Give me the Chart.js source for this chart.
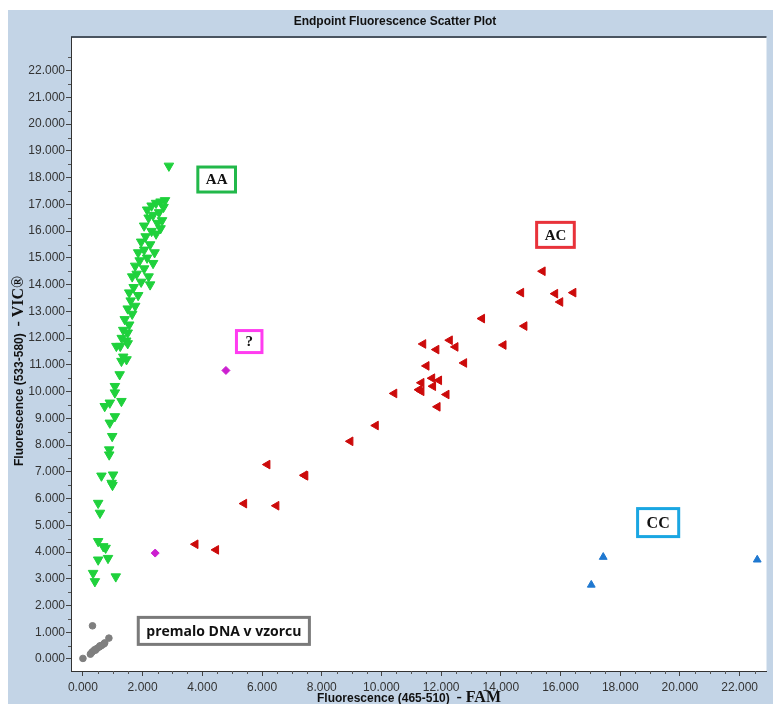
<!DOCTYPE html>
<html>
<head>
<meta charset="utf-8">
<script src="https://cdn.jsdelivr.net/npm/chart.js@4/dist/chart.umd.min.js"></script>
<style>
html,body{margin:0;padding:0;background:#fff;}
canvas{display:block;}
</style>
</head>
<body>
<canvas id="c" width="773" height="704"></canvas>
<script>
// ---- Data (fluorescence units) ----
const aaX = [2880,2750,2600,2450,2300,2150,2700,2550,2350,2650,2500,2200,2050,2600,2300,2100,2450,1950,2250,2050,2400,1850,2150,1900,2350,1750,2050,1800,2200,1650,1950,2250,1700,1550,1850,1600,1750,1500,1650,1400,1550,1350,1500,1300,1450,1250,1500,1120,1290,1460,1350,1230,1070,1070,1290,730,900,1070,900,980,880,880,620,1010,960,990,510,570,510,680,760,510,840,340,400,1100];
const aaY = [18440,17150,17100,17050,16950,16800,16900,16700,16600,16400,16300,16500,16200,16100,16000,15800,15900,15600,15500,15300,15200,15200,15000,14900,14800,14700,14600,14400,14300,14300,14100,14000,13900,13700,13600,13400,13200,13100,12900,12700,12500,12300,12200,12000,11900,11700,11800,11700,11140,11200,11300,10640,10200,9960,9640,9450,9580,9070,8830,8330,7830,7640,6850,6890,6580,6500,5830,5460,4400,4210,4150,3710,3770,3210,2900,3080];

const acX = [15400,14680,15820,16430,15990,13370,14790,11400,12290,11840,12480,14090,11510,12770,11700,11930,11340,11730,11260,11340,10430,12180,11880,9810,8960,6180,7420,7450,5400,6480,3770,4460];
const acY = [14500,13700,13660,13700,13350,12730,12450,11780,11920,11570,11670,11740,10960,11070,10500,10420,10330,10200,10070,10010,9930,9890,9430,8730,8140,7270,6870,6850,5810,5730,4290,4080];

const ccX = [17430,17030,22590];
const ccY = [3810,2770,3710];

const unkX = [4790,2420];
const unkY = [10790,3960];

const lowX = [0,320,250,300,350,420,480,550,620,700,870,400,570,730];
const lowY = [20,1240,180,250,300,330,400,450,500,560,780,350,490,600];

// tick values
const xTicks = [0,2000,4000,6000,8000,10000,12000,14000,16000,18000,20000,22000];
const yTicks = [0,1000,2000,3000,4000,5000,6000,7000,8000,9000,10000,11000,12000,13000,14000,15000,16000,17000,18000,19000,20000,21000,22000];

// annotation labels and their anchor (data coordinates of box centre)
const noteText = ['AA','AC','?','CC','premalo DNA v vzorcu'];
const noteX = [4480,15830,5570,19270,4720];
const noteY = [17930,15860,11870,5100,1050];

const chartTitle = 'Endpoint Fluorescence Scatter Plot';
const xTitle = ['Fluorescence (465-510)', '- FAM'];
const yTitle = ['Fluorescence (533-580)', '- VIC®'];

// ---- Helpers ----
const pts = (xs, ys) => xs.map((x, i) => ({x: x, y: ys[i]}));
const fmt = v => Math.round(v / 1000) + '.000';
const noteColors = ['#22b84a','#e8323a','#ff3cf0','#1aa6e2','#7a7a7a'];
const noteFonts = ['bold 15px "Liberation Serif"','bold 15px "Liberation Serif"','bold 15px "Liberation Serif"','bold 16px "Liberation Serif"','bold 14px "Open Sans"'];
const notePadX = [8,8,9,9,8];
const noteH = [25,25,22,28,27];

const decor = {
  id: 'decor',
  beforeDraw(chart) {
    const ctx = chart.ctx, a = chart.chartArea;
    ctx.save();
    ctx.fillStyle = '#ffffff';
    ctx.fillRect(0, 0, chart.width, chart.height);
    ctx.fillStyle = '#c3d4e6';
    ctx.fillRect(8, 10, chart.width - 8, chart.height - 10);
    ctx.fillStyle = '#ffffff';
    ctx.fillRect(a.left, a.top, a.right - a.left, a.bottom - a.top);
    ctx.restore();
  },
  afterDatasetsDraw(chart) {
    const ctx = chart.ctx, xs = chart.scales.x, ys = chart.scales.y;
    ctx.save();
    noteText.forEach((t, i) => {
      const cx = xs.getPixelForValue(noteX[i]);
      const cy = ys.getPixelForValue(noteY[i]);
      ctx.font = noteFonts[i];
      const w = ctx.measureText(t).width + notePadX[i] * 2;
      const h = noteH[i];
      ctx.fillStyle = '#ffffff';
      ctx.fillRect(cx - w / 2, cy - h / 2, w, h);
      ctx.strokeStyle = noteColors[i];
      ctx.lineWidth = 3;
      ctx.strokeRect(cx - w / 2, cy - h / 2, w, h);
      ctx.fillStyle = '#111';
      ctx.textAlign = 'center';
      ctx.textBaseline = 'middle';
      ctx.fillText(t, cx, cy + 1);
    });
    ctx.restore();
  },
  afterDraw(chart) {
    const ctx = chart.ctx, a = chart.chartArea, xs = chart.scales.x, ys = chart.scales.y;
    ctx.save();
    // frame
    ctx.strokeStyle = '#4a5460';
    ctx.lineWidth = 2;
    ctx.beginPath();
    ctx.moveTo(a.left, a.top); ctx.lineTo(a.right, a.top);
    ctx.stroke();
    ctx.lineWidth = 1;
    ctx.strokeStyle = '#333';
    ctx.beginPath();
    ctx.moveTo(a.left + 0.5, a.top); ctx.lineTo(a.left + 0.5, a.bottom);
    ctx.moveTo(a.left, a.bottom + 0.5); ctx.lineTo(a.right, a.bottom + 0.5);
    ctx.stroke();
    // minor ticks
    ctx.strokeStyle = '#555';
    ctx.beginPath();
    for (let v = 0; v <= xs.max; v += 500) {
      if (v % 2000 === 0) continue;
      const p = Math.round(xs.getPixelForValue(v)) + 0.5;
      ctx.moveTo(p, a.bottom); ctx.lineTo(p, a.bottom + 3);
    }
    for (let v = 0; v <= ys.max; v += 500) {
      if (v % 1000 === 0) continue;
      const p = Math.round(ys.getPixelForValue(v)) + 0.5;
      ctx.moveTo(a.left, p); ctx.lineTo(a.left - 3, p);
    }
    ctx.stroke();
    // chart title
    ctx.fillStyle = '#111';
    ctx.font = 'bold 12px "Liberation Sans"';
    ctx.textAlign = 'center';
    ctx.textBaseline = 'alphabetic';
    ctx.fillText(chartTitle, 395, 25);
    // x title
    const f1 = 'bold 12px "Liberation Sans"', f2 = 'bold 16px "Liberation Serif"';
    ctx.textAlign = 'left';
    ctx.font = f1; const w1 = ctx.measureText(xTitle[0] + '  ').width;
    ctx.font = f2; const w2 = ctx.measureText(xTitle[1]).width;
    let sx = 409 - (w1 + w2) / 2;
    ctx.font = f1; ctx.fillText(xTitle[0] + '  ', sx, 702);
    ctx.font = f2; ctx.fillText(xTitle[1], sx + w1, 702);
    // y title
    ctx.translate(23, 371);
    ctx.rotate(-Math.PI / 2);
    ctx.font = f1; const v1 = ctx.measureText(yTitle[0] + '  ').width;
    ctx.font = f2; const v2 = ctx.measureText(yTitle[1]).width;
    sx = -(v1 + v2) / 2;
    ctx.font = f1; ctx.fillText(yTitle[0] + '  ', sx, 0);
    ctx.font = f2; ctx.fillText(yTitle[1], sx + v1, 0);
    ctx.restore();
  }
};

new Chart(document.getElementById('c'), {
  type: 'scatter',
  data: {
    datasets: [
      {label: 'AA', data: pts(aaX, aaY), pointStyle: 'triangle', rotation: 180, pointRadius: 5.5,
       backgroundColor: '#1fd13c', borderColor: '#1fd13c', borderWidth: 1},
      {label: 'AC', data: pts(acX, acY), pointStyle: 'triangle', rotation: 270, pointRadius: 5,
       backgroundColor: '#cc0a0a', borderColor: '#cc0a0a', borderWidth: 1},
      {label: 'CC', data: pts(ccX, ccY), pointStyle: 'triangle', rotation: 0, pointRadius: 4.5,
       backgroundColor: '#1f78d0', borderColor: '#1f78d0', borderWidth: 1},
      {label: '?', data: pts(unkX, unkY), pointStyle: 'rectRot', pointRadius: 4,
       backgroundColor: '#cc1fd0', borderColor: '#cc1fd0', borderWidth: 1},
      {label: 'low', data: pts(lowX, lowY), pointStyle: 'circle', pointRadius: 3.3,
       backgroundColor: '#7f7f7f', borderColor: '#7f7f7f', borderWidth: 1}
    ]
  },
  options: {
    responsive: false,
    animation: false,
    devicePixelRatio: 1,
    layout: {padding: {left: 8, top: 37, right: 3, bottom: 0}},
    plugins: {legend: {display: false}, tooltip: {enabled: false}, title: {display: false}},
    scales: {
      x: {
        type: 'linear', min: -400, max: 22900,
        afterBuildTicks: s => { s.ticks = xTicks.map(v => ({value: v})); },
        afterFit: s => { s.height = 33; },
        ticks: {callback: v => fmt(v), maxRotation: 0, autoSkip: false,
                font: {family: '"Liberation Sans"', size: 12}, color: '#333', padding: 4},
        grid: {drawOnChartArea: false, drawTicks: true, tickLength: 5, color: '#444'},
        border: {display: true, color: '#333'}
      },
      y: {
        type: 'linear', min: -450, max: 23260,
        afterBuildTicks: s => { s.ticks = yTicks.map(v => ({value: v})); },
        afterFit: s => { s.width = 63; },
        ticks: {callback: v => fmt(v), autoSkip: false,
                font: {family: '"Liberation Sans"', size: 12}, color: '#333', padding: 1},
        grid: {drawOnChartArea: false, drawTicks: true, tickLength: 5, color: '#444'},
        border: {display: true, color: '#333'}
      }
    }
  },
  plugins: [decor]
});
</script>
</body>
</html>
